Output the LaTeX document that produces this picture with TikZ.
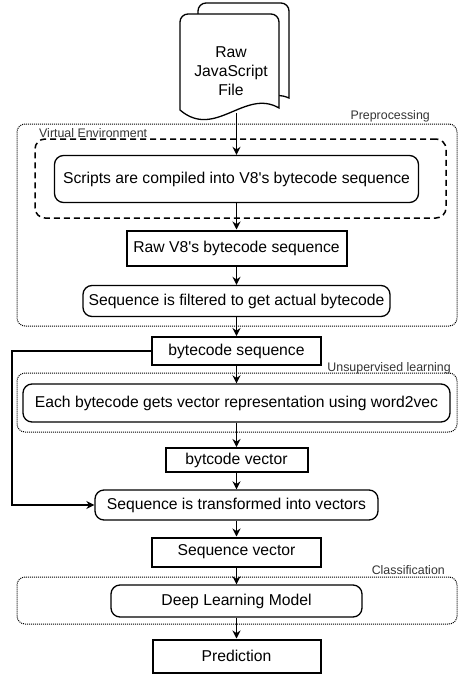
\documentclass[tikz,border=0pt]{standalone}
\usepackage{fontspec}
\setmainfont{Liberation Sans}
\usetikzlibrary{arrows.meta}

\begin{document}
\begin{tikzpicture}[x=1pt, y=-1pt,
  font=\fontsize{15.7}{19}\selectfont,
  proc/.style={draw, rounded corners=9pt, line width=1.3pt, inner sep=0pt},
  data/.style={draw, line width=2pt, inner sep=0pt},
  grp/.style={draw, rounded corners=8pt, line width=1pt, dash pattern=on 1pt off 1pt, inner sep=0pt},
  grplabel/.style={font=\fontsize{12.4}{14}\selectfont, text=black!80, inner sep=0pt},
  arr/.style={-{Stealth[length=8pt,width=8pt]}, line width=1.5pt}]
\useasboundingbox (0,0) rectangle (458,675);

% groups
\node[grp, minimum width=440pt, minimum height=202pt] (prepro) at (237,225) {};
\node[grp, line width=1.5pt, dash pattern=on 6pt off 4pt, rounded corners=10pt,
      minimum width=411pt, minimum height=79pt] (virtenv) at (240.5,178.5) {};
\node[grp, minimum width=440pt, minimum height=59pt] (unsup) at (237,402.5) {};
\node[grp, minimum width=440pt, minimum height=47pt] (classif) at (237,600.5) {};

\node[grplabel, anchor=east] (preprolabel) at (430,116) {Preprocessing};
\node[grplabel, anchor=west] (virtenvlabel) at (39,133) {Virtual Environment};
\node[grplabel, anchor=east] (unsuplabel) at (451,368) {Unsupervised learning};
\node[grplabel, anchor=east] (classiflabel) at (445,570) {Classification};

% input file
\draw[fill=white, line width=1.3pt, rounded corners=8pt] (198,60) -- (198,3) -- (289,3)
  [sharp corners] -- (289,98) .. controls (260,85) and (230,125) .. (198,100) -- cycle;
\draw[fill=white, line width=1.3pt, rounded corners=8pt] (180,110) -- (180,14) -- (279,14)
  [sharp corners] -- (279,108) .. controls (245,88) and (215,140) .. (180,110) -- cycle;
\node[align=center, inner sep=0pt] (rawjs) at (231,71) {Raw\\JavaScript\\File};
\coordinate (rawjsbot) at (236.5,113);

% steps
\node[proc, minimum width=364pt, minimum height=47pt] (compile) at (236.5,179) {Scripts are compiled into V8\textquotesingle s bytecode sequence};
\node[data, minimum width=220pt, minimum height=35pt] (rawbc) at (236.5,248) {Raw V8\textquotesingle s bytecode sequence};
\node[proc, minimum width=307pt, minimum height=31pt] (filter) at (236.5,301) {Sequence is filtered to get actual bytecode};
\node[data, minimum width=169pt, minimum height=28pt] (bcseq) at (236.5,351) {bytecode sequence};
\node[proc, minimum width=427pt, minimum height=38pt] (word2vec) at (236.5,403) {Each bytecode gets vector representation using word2vec};
\node[data, minimum width=142pt, minimum height=24pt] (bcvec) at (236.5,460) {bytcode vector};
\node[proc, minimum width=283pt, minimum height=30pt] (transform) at (236.5,505) {Sequence is transformed into vectors};
\node[data, minimum width=169pt, minimum height=29pt] (seqvec) at (236.5,552) {Sequence vector};
\node[proc, minimum width=251pt, minimum height=32pt] (dlmodel) at (236.5,601) {Deep Learning Model};
\node[data, minimum width=168pt, minimum height=33pt] (predict) at (236.5,656) {Prediction};

% arrows
\draw[arr] (rawjsbot) -- (compile);
\draw[arr] (compile) -- (rawbc);
\draw[arr] (rawbc) -- (filter);
\draw[arr] (filter) -- (bcseq);
\draw[arr] (bcseq) -- (word2vec);
\draw[arr] (word2vec) -- (bcvec);
\draw[arr] (bcvec) -- (transform);
\draw[arr] (transform) -- (seqvec);
\draw[arr] (seqvec) -- (dlmodel);
\draw[arr] (dlmodel) -- (predict);

\coordinate (fb) at (12,0);
\draw[arr, line width=2pt] (bcseq.west) -- (fb |- bcseq.west) -- (fb |- transform.west) -- (transform.west);
\end{tikzpicture}
\end{document}
